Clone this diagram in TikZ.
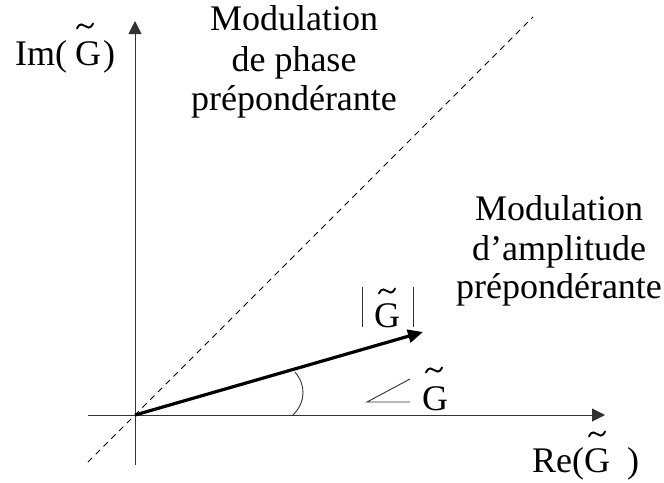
\documentclass[tikz,border=0pt]{standalone}
\usepackage{fontspec}
\setmainfont{Liberation Serif}
\usetikzlibrary{arrows.meta}
\tikzset{
  axis/.style={line width=1pt, draw=black!80, -{Triangle[length=13pt,width=13pt]}},
  thinline/.style={line width=0.9pt, draw=black!80},
  vec/.style={line width=3.2pt, -{Triangle[length=15pt,width=13pt]}},
  diag/.style={line width=0.9pt, dash pattern=on 6pt off 5pt},
  txt/.style={anchor=base, inner sep=0pt, font=\fontsize{36}{42}\selectfont},
  txtw/.style={anchor=base west, inner sep=0pt, font=\fontsize{36}{42}\selectfont},
  tildestroke/.style={line width=1.9pt, line cap=round},
}
\newcommand{\tld}[2]{\draw[tildestroke, shift={(#1,#2)}] (-8,2.5) .. controls (-5,-4) and (-2,-1) .. (0,0) .. controls (2,1) and (5,4) .. (8,-2.5);}
\begin{document}
\begin{tikzpicture}[x=1pt,y=-1pt]
\useasboundingbox (0,0) rectangle (664,482);
% coordinates
\coordinate (O) at (135,415);
\coordinate (ybot) at (135,465);
\coordinate (ytop) at (135,21);
\coordinate (xleft) at (88,415);
\coordinate (xright) at (605,415);
\coordinate (dA) at (88,462);
\coordinate (dB) at (533,17);
\coordinate (vtip) at (423,332);
\coordinate (arcA) at (293,415);
\coordinate (arcB) at (295,372);
% dashed diagonal
\draw[diag] (dA) -- (dB);
% axes
\draw[axis] (ybot) -- (ytop);
\draw[axis] (xleft) -- (xright);
% vector
\draw[vec] (O) -- (vtip);
% angle arc
\draw[thinline] (arcA) .. controls (306,402) and (306,385) .. (arcB);
% angle symbol
\coordinate (angO) at (367,402);
\coordinate (angA) at (410,379);
\coordinate (angB) at (410,402);
\draw[thinline] (angA) -- (angO) -- (angB);
% modulus bars
\coordinate (b1t) at (362,287);
\coordinate (b1b) at (362,327);
\coordinate (b2t) at (413,287);
\coordinate (b2b) at (413,327);
\draw[thinline] (b1t) -- (b1b);
\draw[thinline] (b2t) -- (b2b);
% texts
\node[txt] (m1) at (294,30) {Modulation};
\node[txt] (m2) at (294,71) {de phase};
\node[txt] (m3) at (294,110) {prépondérante};
\node[txt] (a1) at (559,220) {Modulation};
\node[txt] (a2) at (559,260) {d’amplitude};
\node[txt] (a3) at (559,298) {prépondérante};
% Im label
\node[txtw] (im) at (15,65) {Im(\hspace{8pt}G\hspace{2pt})};
\tld{85}{26}
% modulus G
\node[txtw] (modG) at (374,327) {G};
\tld{387}{291}
% angle G
\node[txtw] (angG) at (422,410) {G};
\tld{434}{370}
% Re label
\node[txtw] (re) at (532,472) {Re(G\hspace{17pt})};
\tld{597}{434}
\end{tikzpicture}
\end{document}
